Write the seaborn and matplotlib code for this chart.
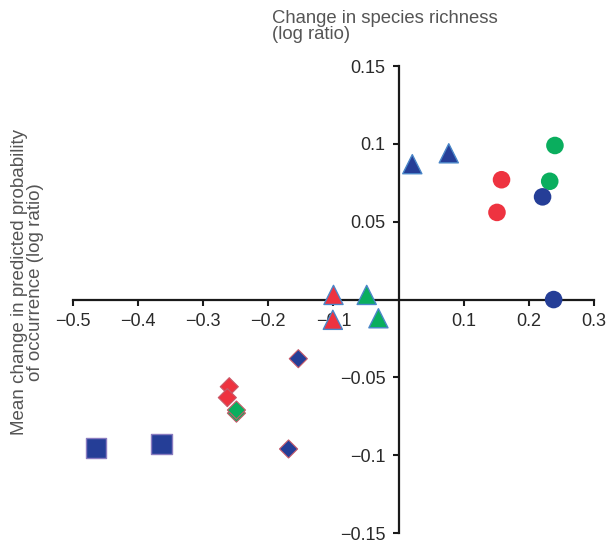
import matplotlib
matplotlib.use("Agg")
import matplotlib.pyplot as plt
import seaborn as sns
import pandas as pd

# values
circle_x = [0.158, 0.151, 0.240, 0.232, 0.221, 0.238]
circle_y = [0.077, 0.056, 0.099, 0.076, 0.066, 0.0]
circle_c = ["red", "red", "green", "green", "blue", "blue"]

tri_x = [0.021, 0.077, -0.100, -0.049, -0.101, -0.031]
tri_y = [0.087, 0.094, 0.003, 0.003, -0.013, -0.012]
tri_c = ["blue", "blue", "red", "green", "red", "green"]

dia_x = [-0.154, -0.260, -0.263, -0.249, -0.249, -0.169]
dia_y = [-0.038, -0.056, -0.063, -0.073, -0.071, -0.096]
dia_c = ["blue", "red", "red", "green", "green", "blue"]

sq_x = [-0.465, -0.364]
sq_y = [-0.0955, -0.093]
sq_c = ["blue", "blue"]

palette = {"red": "#EE3340", "green": "#0AAE5E", "blue": "#253E97"}

sns.set_style("white")
plt.rcParams["font.family"] = ["Liberation Sans", "DejaVu Sans"]

fig = plt.figure(figsize=(6.08, 5.42), dpi=100)
ax = fig.add_axes([0.120, 0.0166, 0.857, 0.8614])

shapes = [
    (circle_x, circle_y, circle_c, "o", "none", 0, 160),
    (tri_x, tri_y, tri_c, "^", "#4A86C8", 1.0, 190),
    (dia_x, dia_y, dia_c, "D", "#C85A6A", 0.8, 85),
    (sq_x, sq_y, sq_c, "s", "#8A7CC0", 1.0, 210),
]
for xs, ys, cs, m, ec, lw, s in shapes:
    df = pd.DataFrame({"x": xs, "y": ys, "c": cs})
    sns.scatterplot(data=df, x="x", y="y", hue="c", palette=palette, marker=m,
                    s=s, edgecolor=ec, linewidth=lw, legend=False, ax=ax,
                    zorder=3)

ax.set_xlim(-0.5, 0.3)
ax.set_ylim(-0.15, 0.15)
ax.spines["left"].set_position(("data", 0))
ax.spines["bottom"].set_position(("data", 0))
ax.spines["right"].set_visible(False)
ax.spines["top"].set_visible(False)
for sp in ["left", "bottom"]:
    ax.spines[sp].set_color("#1a1a1a")
    ax.spines[sp].set_linewidth(1.6)
    ax.spines[sp].set_zorder(2)

xt = [-0.5, -0.4, -0.3, -0.2, -0.1, 0.1, 0.2, 0.3]
yt = [-0.15, -0.1, -0.05, 0.05, 0.1, 0.15]
ax.set_xticks(xt)
ax.set_xticklabels(["\u2212" + str(abs(v)) if v < 0 else str(v) for v in xt])
ax.set_yticks(yt)
ax.set_yticklabels(["\u2212" + str(abs(v)) if v < 0 else str(v) for v in yt])
ax.tick_params(axis="both", direction="out", length=4.5, width=1.5,
               color="#1a1a1a", labelsize=13, labelcolor="#2a2a2a", pad=5,
               bottom=True, left=True)
ax.set_xlabel("")
ax.set_ylabel("")

fig.text(0.447, 0.982, "Change in species richness\n(log ratio)", ha="left",
         va="top", fontsize=13.3, color="#555555", linespacing=0.95)
fig.text(0.045, 0.48, "Mean change in predicted probability\nof occurrence (log ratio)",
         rotation=90, ha="center", va="center", fontsize=13.5, color="#555555",
         linespacing=0.95)

fig.savefig("out.png", dpi=100)
